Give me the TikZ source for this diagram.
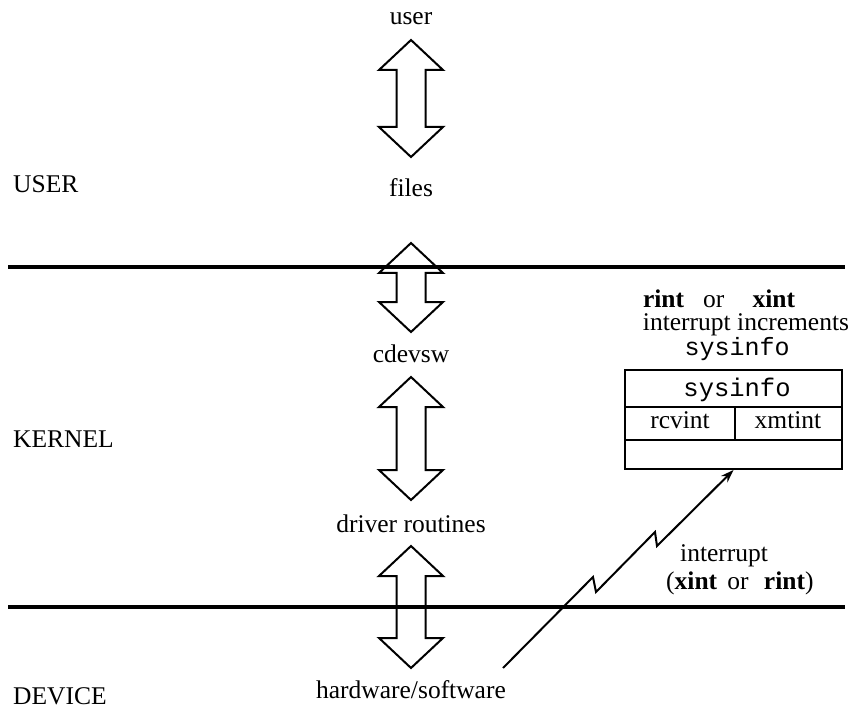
\documentclass[tikz,border=0pt]{standalone}
\usepackage{fontspec}
\setmainfont{Liberation Serif}
\setmonofont{Liberation Mono}
\usetikzlibrary{arrows.meta,calc}
\newcommand\DblArr[2]{%
  \draw[dblarrow] let \p1=(#1), \p2=(#2) in
    (\x1,\y1) -- (\x1+32pt,\y1-30pt) -- (\x1+14.5pt,\y1-30pt) -- (\x1+14.5pt,\y2+30pt)
    -- (\x1+32pt,\y2+30pt) -- (\x1,\y2) -- (\x1-32pt,\y2+30pt) -- (\x1-14.5pt,\y2+30pt)
    -- (\x1-14.5pt,\y1-30pt) -- (\x1-32pt,\y1-30pt) -- cycle;}
\begin{document}
\begin{tikzpicture}[x=1pt,y=-1pt,
  lbl/.style={font=\fontsize{25.5}{28}\selectfont, inner sep=0pt, anchor=base},
  sideLbl/.style={font=\fontsize{25.5}{28}\selectfont, inner sep=0pt, anchor=base west},
  sep/.style={line width=3.2pt},
  dblarrow/.style={line width=2pt, line join=miter},
  boxline/.style={line width=2pt},
  bolt/.style={line width=2pt, -{Stealth[length=13pt,width=9pt]}}]
\useasboundingbox (0,0) rectangle (851,711);

% separator lines
\coordinate (l1w) at (8,267); \coordinate (l1e) at (845,267);
\coordinate (l2w) at (8,607); \coordinate (l2e) at (845,607);
\draw[sep] (l1w) -- (l1e);
\draw[sep] (l2w) -- (l2e);

% side labels
\node[sideLbl] (userL) at (13,193) {USER};
\node[sideLbl] (kernelL) at (13,447) {KERNEL};
\node[sideLbl] (deviceL) at (13,704) {DEVICE};

% column labels
\node[lbl] (user) at (411,25) {user};
\node[lbl] (files) at (411,197) {files};
\node[lbl] (cdevsw) at (411,362) {cdevsw};
\node[lbl] (driver) at (411,532) {driver routines};
\node[lbl] (hw) at (411,698) {hardware/software};

% double arrows
\coordinate (a1t) at (411,40);  \coordinate (a1b) at (411,157);
\coordinate (a2t) at (411,243); \coordinate (a2b) at (411,332);
\coordinate (a3t) at (411,377); \coordinate (a3b) at (411,500);
\coordinate (a4t) at (411,546); \coordinate (a4b) at (411,668);
\DblArr{a1t}{a1b}
\DblArr{a2t}{a2b}
\DblArr{a3t}{a3b}
\DblArr{a4t}{a4b}

% text above box
\node[lbl] (t1) at (719,307) {\textbf{rint}\hspace{0.75em}or\hspace{1.1em}\textbf{xint}};
\node[lbl] (t2) at (746,330) {interrupt increments};
\node[lbl, font=\fontsize{25}{28}\selectfont] (t3) at (737,355) {\ttfamily sysinfo};

% sysinfo box
\node[boxline, draw, inner sep=0pt, minimum width=217pt, minimum height=99pt, anchor=north west] (box) at (624,369) {};
\draw[boxline] ($(box.north west)+(0,38)$) -- ($(box.north east)+(0,38)$);
\draw[boxline] ($(box.north west)+(0,71)$) -- ($(box.north east)+(0,71)$);
\draw[boxline] ($(box.north west)+(111,38)$) -- ($(box.north west)+(111,71)$);
\node[lbl] (bsys) at (737,396) {\ttfamily sysinfo};
\node[lbl] (rcv) at (680,428) {rcvint};
\node[lbl] (xmt) at (788,428) {xmtint};

% interrupt bolt
\coordinate (zs) at (503,668);
\draw[bolt] (zs) -- (593,577) -- (596,592) -- (655,532) -- (657,546) -- (box.south);
\node[sideLbl] (intr) at (680,561) {interrupt};
\node[sideLbl] (intr2) at (666,589) {(\textbf{xint}\hspace{0.4em}or\hspace{0.6em}\textbf{rint})};
\end{tikzpicture}
\end{document}
